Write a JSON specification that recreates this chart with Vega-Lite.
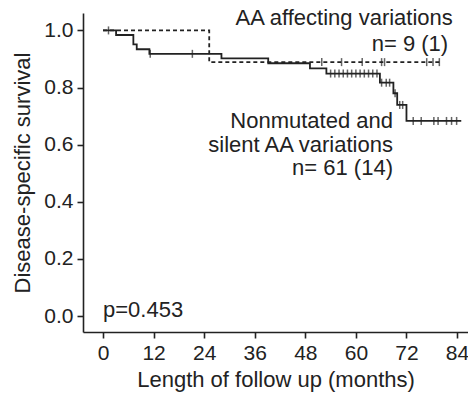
{
  "$schema": "https://vega.github.io/schema/vega-lite/v6.json",
  "width": 385,
  "height": 319,
  "autosize": "none",
  "padding": {"left": 83, "top": 13, "right": 0, "bottom": 66},
  "config": {
    "view": {"stroke": null},
    "font": "Liberation Sans",
    "axis": {
      "grid": false,
      "domainColor": "#222222",
      "domainWidth": 1.6,
      "tickColor": "#222222",
      "tickWidth": 1.6,
      "tickSize": 6,
      "labelColor": "#222222",
      "labelFontSize": 21,
      "labelFont": "Liberation Sans",
      "titleColor": "#222222",
      "titleFontSize": 22,
      "titleFont": "Liberation Sans",
      "titleFontWeight": "normal"
    }
  },
  "datasets": {
    "curves": [
      {"group": "nonmut", "t": 0, "s": 1.0},
      {"group": "nonmut", "t": 3.1, "s": 0.984},
      {"group": "nonmut", "t": 7.2, "s": 0.951},
      {"group": "nonmut", "t": 8.0, "s": 0.934},
      {"group": "nonmut", "t": 11.0, "s": 0.918},
      {"group": "nonmut", "t": 28.1, "s": 0.902},
      {"group": "nonmut", "t": 39.2, "s": 0.885},
      {"group": "nonmut", "t": 49.1, "s": 0.867},
      {"group": "nonmut", "t": 53.0, "s": 0.849},
      {"group": "nonmut", "t": 65.7, "s": 0.817},
      {"group": "nonmut", "t": 68.9, "s": 0.78},
      {"group": "nonmut", "t": 69.8, "s": 0.739},
      {"group": "nonmut", "t": 72.0, "s": 0.683},
      {"group": "nonmut", "t": 85.0, "s": 0.683},
      {"group": "aa", "t": 0, "s": 1.0},
      {"group": "aa", "t": 25.2, "s": 0.889},
      {"group": "aa", "t": 80.0, "s": 0.889}
    ],
    "censor": [
      {"group": "nonmut", "t": 1.3, "s": 1.0},
      {"group": "nonmut", "t": 11.2, "s": 0.918},
      {"group": "nonmut", "t": 21.2, "s": 0.918},
      {"group": "nonmut", "t": 54, "s": 0.849},
      {"group": "nonmut", "t": 55, "s": 0.849},
      {"group": "nonmut", "t": 56, "s": 0.849},
      {"group": "nonmut", "t": 57, "s": 0.849},
      {"group": "nonmut", "t": 58, "s": 0.849},
      {"group": "nonmut", "t": 59, "s": 0.849},
      {"group": "nonmut", "t": 60, "s": 0.849},
      {"group": "nonmut", "t": 61, "s": 0.849},
      {"group": "nonmut", "t": 62, "s": 0.849},
      {"group": "nonmut", "t": 63, "s": 0.849},
      {"group": "nonmut", "t": 64, "s": 0.849},
      {"group": "nonmut", "t": 65, "s": 0.849},
      {"group": "nonmut", "t": 66.1, "s": 0.817},
      {"group": "nonmut", "t": 67.2, "s": 0.817},
      {"group": "nonmut", "t": 68.0, "s": 0.817},
      {"group": "nonmut", "t": 69.3, "s": 0.78},
      {"group": "nonmut", "t": 70.4, "s": 0.739},
      {"group": "nonmut", "t": 71.1, "s": 0.739},
      {"group": "nonmut", "t": 73.6, "s": 0.683},
      {"group": "nonmut", "t": 75.5, "s": 0.683},
      {"group": "nonmut", "t": 78.5, "s": 0.683},
      {"group": "nonmut", "t": 79.5, "s": 0.683},
      {"group": "nonmut", "t": 81.5, "s": 0.683},
      {"group": "nonmut", "t": 82.7, "s": 0.683},
      {"group": "nonmut", "t": 83.9, "s": 0.683},
      {"group": "aa", "t": 51.9, "s": 0.889},
      {"group": "aa", "t": 56.6, "s": 0.889},
      {"group": "aa", "t": 61.5, "s": 0.889},
      {"group": "aa", "t": 66.1, "s": 0.889},
      {"group": "aa", "t": 66.8, "s": 0.889},
      {"group": "aa", "t": 76.8, "s": 0.889},
      {"group": "aa", "t": 78.3, "s": 0.889},
      {"group": "aa", "t": 79.8, "s": 0.889}
    ],
    "labels": [
      {"t": 83.0, "s": 1.019, "label": "AA affecting variations"},
      {"t": 81.9, "s": 0.928, "label": "n= 9 (1)"},
      {"t": 68.8, "s": 0.658, "label": "Nonmutated and"},
      {"t": 68.8, "s": 0.574, "label": "silent AA variations"},
      {"t": 68.8, "s": 0.494, "label": "n= 61 (14)"}
    ],
    "pval": [
      {"t": 0, "s": -0.004, "label": "p=0.453"}
    ]
  },
  "layer": [
    {
      "data": {"name": "curves"},
      "transform": [{"filter": "datum.group === 'aa'"}],
      "mark": {"type": "line", "interpolate": "step-after", "color": "#222222", "strokeWidth": 1.8, "strokeDash": [4, 3]},
      "encoding": {
        "x": {"field": "t", "type": "quantitative", "scale": {"domain": [-4.75, 86.6], "nice": false, "zero": false},
              "axis": {"values": [0, 12, 24, 36, 48, 60, 72, 84], "title": "Length of follow up (months)", "titlePadding": 6, "labelPadding": 4}},
        "y": {"field": "s", "type": "quantitative", "scale": {"domain": [-0.056, 1.061], "nice": false, "zero": false},
              "axis": {"values": [0, 0.2, 0.4, 0.6, 0.8, 1.0], "format": ".1f", "title": "Disease-specific survival", "titlePadding": 9, "labelPadding": 4}}
      }
    },
    {
      "data": {"name": "curves"},
      "transform": [{"filter": "datum.group === 'nonmut'"}],
      "mark": {"type": "line", "interpolate": "step-after", "color": "#222222", "strokeWidth": 1.8},
      "encoding": {
        "x": {"field": "t", "type": "quantitative"},
        "y": {"field": "s", "type": "quantitative"}
      }
    },
    {
      "data": {"name": "censor"},
      "mark": {"type": "tick", "orient": "vertical", "color": "#222222", "size": 8, "thickness": 1.5},
      "encoding": {
        "x": {"field": "t", "type": "quantitative"},
        "y": {"field": "s", "type": "quantitative"}
      }
    },
    {
      "data": {"name": "labels"},
      "mark": {"type": "text", "align": "right", "baseline": "alphabetic", "fontSize": 22, "color": "#222222", "font": "Liberation Sans"},
      "encoding": {
        "x": {"field": "t", "type": "quantitative"},
        "y": {"field": "s", "type": "quantitative"},
        "text": {"field": "label"}
      }
    },
    {
      "data": {"name": "pval"},
      "mark": {"type": "text", "align": "left", "baseline": "alphabetic", "fontSize": 22, "color": "#222222", "font": "Liberation Sans"},
      "encoding": {
        "x": {"field": "t", "type": "quantitative"},
        "y": {"field": "s", "type": "quantitative"},
        "text": {"field": "label"}
      }
    }
  ]
}
